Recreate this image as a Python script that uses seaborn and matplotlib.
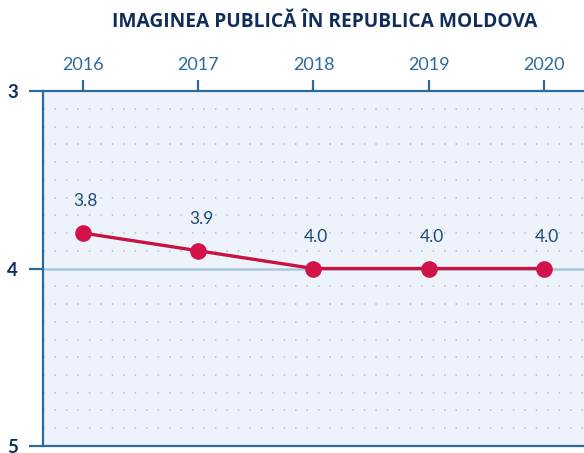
import pandas as pd
import matplotlib.pyplot as plt
import seaborn as sns

# === Data ===
years = [2016, 2017, 2018, 2019, 2020]
scores = [3.8, 3.9, 4.0, 4.0, 4.0]
labels = ['3.8', '3.9', '4.0', '4.0', '4.0']
y_ticks = [3, 4, 5]

df = pd.DataFrame({'Year': years, 'Score': scores})

sns.set_style('white')
plt.rcParams['font.family'] = ['Lato', 'DejaVu Sans']

blue = '#2b6a9c'
navy = '#0f2d5c'
red = '#c4143f'

fig = plt.figure(figsize=(5.84, 4.53), dpi=100)
ax = fig.add_axes([0.0736, 0.0155, 0.9264, 0.7835])
ax.set_facecolor('#eef3fb')

# dotted grid every 0.1
for v in [3 + i / 10 for i in range(1, 20) if i != 10]:
    ax.axhline(v, color='#b0bccc', lw=1.1, ls=(0, (1, 6.5)), zorder=1)
ax.axhline(4, color='#a9c7e0', lw=1.8, zorder=2)

sns.lineplot(data=df, x='Year', y='Score', ax=ax, color=red, lw=2.4,
             marker='o', markersize=12, markeredgewidth=0,
             markerfacecolor='#d2134a', zorder=3)

for x, y, t in zip(years, scores, labels):
    ax.annotate(t, (x, y), xytext=(2, 17), textcoords='offset points',
                ha='center', va='bottom', fontsize=12.5, color='#1d4a78')

ax.set_xlim(years[0] - 0.347, years[-1] + 0.347)
ax.set_ylim(5, 3)
ax.xaxis.tick_top()
ax.set_xticks(years)
ax.set_xticklabels([str(y) for y in years], fontsize=13, color=blue)
ax.set_yticks(y_ticks)
ax.set_yticklabels([str(y) for y in y_ticks], fontsize=13.5, color=navy,
                   fontweight='bold')
ax.tick_params(axis='x', top=True, bottom=False, direction='out', length=8,
               width=1.6, color=blue, pad=5)
ax.tick_params(axis='y', left=True, direction='out', length=10, width=1.6,
               color=blue, pad=8)
ax.set_xlabel('')
ax.set_ylabel('')

for s in ['top', 'left', 'bottom']:
    ax.spines[s].set_color(blue)
    ax.spines[s].set_linewidth(1.6)
ax.spines['right'].set_visible(False)

fig.text(0.556, 0.951, 'IMAGINEA PUBLICĂ ÎN REPUBLICA MOLDOVA', ha='center',
         va='center', fontsize=13.8, fontweight='bold', color=navy,
         family=['Open Sans', 'DejaVu Sans'])

fig.savefig('out.png', dpi=100)
